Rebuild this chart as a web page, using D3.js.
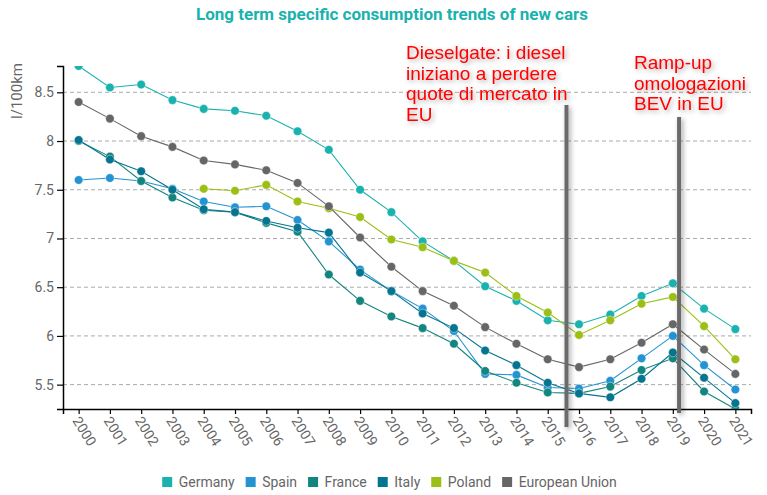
<!DOCTYPE html>
<html>
<head>
<meta charset="utf-8">
<script src="https://cdn.jsdelivr.net/npm/d3@7"></script>
<style>
  body { margin: 0; background: #fff; }
  svg { display: block; font-family: Roboto, sans-serif; }
</style>
</head>
<body>
<div id="chart"></div>
<script>
// Dati
const years = ["2000","2001","2002","2003","2004","2005","2006","2007","2008","2009","2010",
               "2011","2012","2013","2014","2015","2016","2017","2018","2019","2020","2021"]
const germany = [8.77,8.55,8.58,8.42,8.33,8.31,8.26,8.10,7.91,7.50,7.27,6.97,6.77,6.51,6.36,6.16,6.12,6.22,6.41,6.54,6.28,6.07]
const spain   = [7.60,7.62,7.59,7.51,7.38,7.32,7.33,7.19,6.97,6.68,6.46,6.28,6.05,5.61,5.60,5.47,5.46,5.54,5.77,6.00,5.70,5.45]
const france  = [8.00,7.84,7.59,7.42,7.29,7.27,7.16,7.07,6.63,6.36,6.20,6.08,5.92,5.64,5.52,5.42,5.41,5.48,5.65,5.77,5.43,5.25]
const italy   = [8.01,7.81,7.69,7.50,7.30,7.27,7.18,7.11,7.06,6.65,6.46,6.23,6.08,5.85,5.70,5.52,5.41,5.37,5.56,5.83,5.57,5.31]
const poland  = [null,null,null,null,7.51,7.49,7.55,7.38,7.31,7.22,6.99,6.91,6.77,6.65,6.41,6.24,6.01,6.16,6.33,6.40,6.10,5.76]
const eu      = [8.40,8.23,8.05,7.94,7.80,7.76,7.70,7.57,7.33,7.01,6.71,6.46,6.31,6.09,5.92,5.76,5.68,5.76,5.93,6.12,5.86,5.61]

const seriesNames  = ["Germany","Spain","France","Italy","Poland","European Union"]
const seriesValues = [germany, spain, france, italy, poland, eu]
const seriesColors = ["#1ab2ae","#2493d1","#12857f","#05758f","#9bbf14","#666666"]

// Annotazioni (anno frazionario, testo)
const notes = [
  { at: 2015.6, top: 105, bottom: 427, tx: 406, ty: 59, lines: ["Dieselgate: i diesel","iniziano a perdere","quote di mercato in","EU"] },
  { at: 2019.2, top: 117, bottom: 413, tx: 634, ty: 69, lines: ["Ramp-up","omologazioni","BEV in EU"] }
]

const width = 767, height = 495
const margin = { top: 66, right: 16, bottom: 86, left: 63 }
const w = width - margin.left - margin.right
const h = height - margin.top - margin.bottom

const svg = d3.select("#chart").append("svg")
  .attr("width", width).attr("height", height)

const defs = svg.append("defs")
defs.append("clipPath").attr("id", "plot-clip")
  .append("rect").attr("width", w).attr("height", h)
const shadow = defs.append("filter").attr("id", "shadow")
  .attr("filterUnits", "userSpaceOnUse")
  .attr("x", 0).attr("y", 0).attr("width", width).attr("height", height)
shadow.append("feDropShadow").attr("dx", 2).attr("dy", 2).attr("stdDeviation", 2.5)
  .attr("flood-color", "#000").attr("flood-opacity", 0.35)

// Titolo
svg.append("text")
  .attr("x", 392).attr("y", 20)
  .attr("text-anchor", "middle")
  .attr("fill", "#1ab2ae")
  .style("font-size", "17px").style("font-weight", "bold")
  .text("Long term specific consumption trends of new cars")

const g = svg.append("g").attr("transform", `translate(${margin.left},${margin.top})`)

// Scale
const x = d3.scalePoint().domain(years).range([0, w]).padding(0.5)
const allVals = seriesValues.flat().filter(v => v != null)
const y = d3.scaleLinear().domain(d3.extent(allVals)).range([h, 0])

const yearX = t => {
  const i = Math.floor(t) - 2000
  return x(years[i]) + (t - Math.floor(t)) * x.step()
}

// Griglia
const yTicks = y.ticks(8).filter(t => t > y.domain()[0] && t < y.domain()[1])
g.append("g").selectAll("line").data(yTicks).join("line")
  .attr("x1", 0).attr("x2", w)
  .attr("y1", d => y(d)).attr("y2", d => y(d))
  .attr("stroke", "#aaa").attr("stroke-dasharray", "4,3")

// Assi
g.append("g")
  .attr("transform", `translate(0,${h})`)
  .call(d3.axisBottom(x).tickSize(5).tickSizeOuter(5))
  .call(a => a.select(".domain").attr("stroke", "#000").attr("stroke-width", 1.5))
  .call(a => a.selectAll(".tick line").attr("stroke", "#000").attr("stroke-width", 1.2))
  .call(a => a.selectAll(".tick text")
    .attr("fill", "#666").style("font-size", "14px").style("font-family", "Roboto")
    .attr("text-anchor", "start")
    .attr("transform", "translate(-3,9) rotate(58)")
    .attr("x", 0).attr("y", 0).attr("dy", "0.35em"))

g.append("g")
  .call(d3.axisLeft(y).tickValues(yTicks).tickFormat(d3.format("~")).tickSize(6).tickSizeOuter(6))
  .call(a => a.select(".domain").attr("stroke", "#000").attr("stroke-width", 1.5))
  .call(a => a.selectAll(".tick line").attr("stroke", "#000").attr("stroke-width", 1.2))
  .call(a => a.selectAll(".tick text").attr("fill", "#666").style("font-size", "14px").style("font-family", "Roboto"))

svg.append("text")
  .attr("transform", "translate(22,91) rotate(-90)")
  .attr("text-anchor", "middle")
  .attr("fill", "#666")
  .style("font-size", "15px")
  .text("l/100km")

// Serie
const plot = g.append("g").attr("clip-path", "url(#plot-clip)")
const line = d3.line()
  .defined(d => d.v != null)
  .x(d => x(d.year)).y(d => y(d.v))

seriesNames.forEach((name, si) => {
  const pts = years.map((yr, i) => ({ year: yr, v: seriesValues[si][i] }))
  const sg = plot.append("g")
  sg.append("path").datum(pts)
    .attr("d", line)
    .attr("fill", "none")
    .attr("stroke", seriesColors[si])
    .attr("stroke-width", 1.1)
  sg.selectAll("circle").data(pts.filter(d => d.v != null)).join("circle")
    .attr("cx", d => x(d.year)).attr("cy", d => y(d.v))
    .attr("r", 4.3)
    .attr("fill", seriesColors[si])
    .attr("stroke", "#fff").attr("stroke-width", 0.6).attr("stroke-opacity", 0.7)
})

// Annotazioni
notes.forEach(n => {
  svg.append("rect")
    .attr("x", margin.left + yearX(n.at) - 2).attr("width", 4)
    .attr("y", n.top).attr("height", n.bottom - n.top)
    .attr("fill", "#6b6b6b")
    .attr("filter", "url(#shadow)")
  const t = svg.append("text")
    .attr("x", n.tx).attr("y", n.ty)
    .attr("fill", "#ff0000")
    .style("font-family", "'Liberation Sans', Arial, sans-serif")
    .style("font-size", "19px")
    .attr("filter", "url(#shadow)")
  n.lines.forEach((l, i) => {
    t.append("tspan").attr("x", n.tx).attr("dy", i === 0 ? 0 : 20.7).text(l)
  })
})

// Legenda
const legend = svg.append("g").attr("transform", "translate(0,487)")
const items = legend.selectAll("g").data(seriesNames).join("g")
items.append("rect")
  .attr("y", -10).attr("width", 10).attr("height", 10)
  .attr("fill", (d, i) => seriesColors[i])
items.append("text")
  .attr("x", 16.5).attr("fill", "#666")
  .style("font-size", "14px")
  .text(d => d)
let cx = 0
const offsets = []
items.each(function () {
  offsets.push(cx)
  const tw = d3.select(this).select("text").node().getComputedTextLength()
  cx += 16.5 + tw + 11
})
const total = cx - 11
const start = 389.5 - total / 2
items.attr("transform", (d, i) => `translate(${start + offsets[i]},0)`)
</script>
</body>
</html>
